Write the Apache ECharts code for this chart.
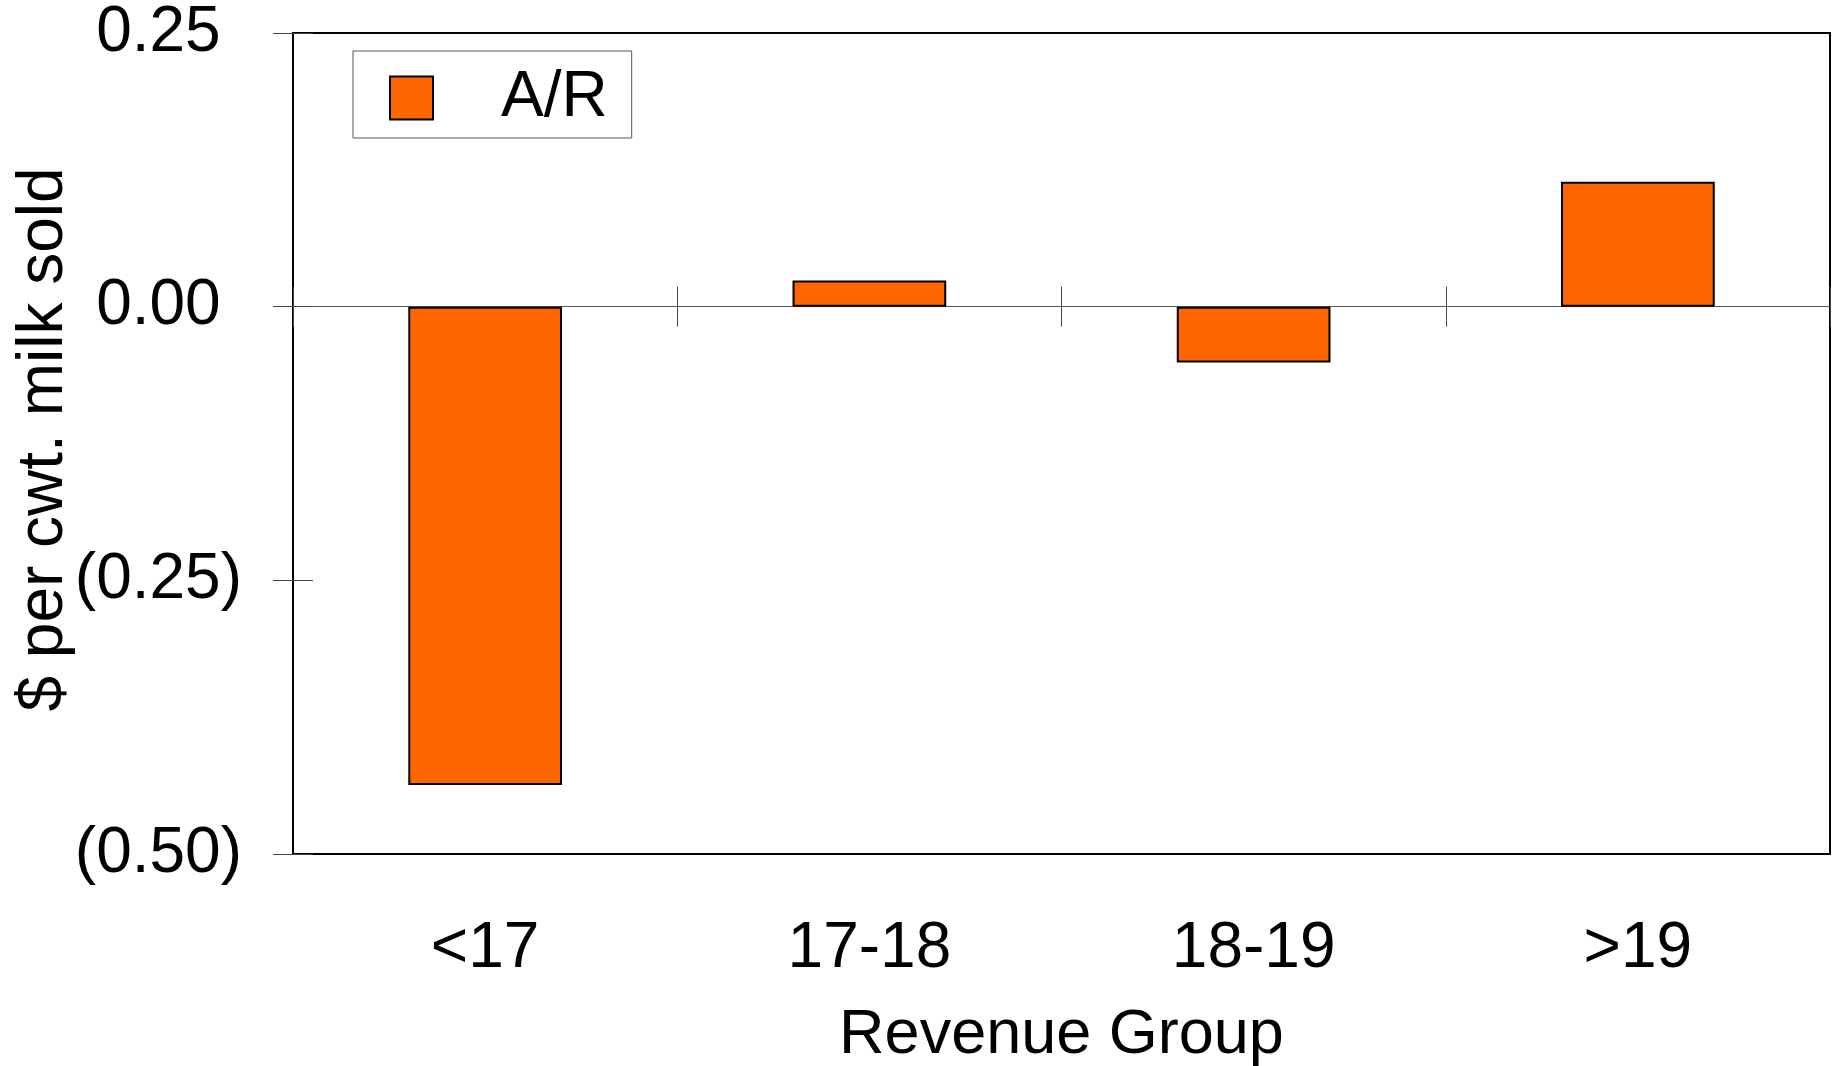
<!DOCTYPE html>
<html>
<head>
<meta charset="utf-8">
<script src="https://cdn.jsdelivr.net/npm/echarts@6/dist/echarts.min.js"></script>
<style>
html,body{margin:0;padding:0;background:#fff;}
#chart{width:1837px;height:1066px;}
</style>
</head>
<body>
<div id="chart"></div>
<script>
const categories = ['<17', '17-18', '18-19', '>19'];
const arValues = [-0.437, 0.024, -0.051, 0.114];
const seriesName = 'A/R';
const yMin = -0.5, yMax = 0.25, yStep = 0.25;
const xTitle = 'Revenue Group';
const yTitle = '$ per cwt. milk sold';

const FONT = "'Liberation Sans', Arial, Helvetica, sans-serif";

function fmtY(v) {
  const r = Math.round(v * 100) / 100;
  if (r < 0) return '{n|(' + (-r).toFixed(2) + ')}';
  return '{n|' + r.toFixed(2) + '}{h|)}';
}

const chart = echarts.init(document.getElementById('chart'), null, {renderer: 'canvas'});
const gridPos = {left: 293, right: 7, top: 33, bottom: 212, containLabel: false, outerBoundsMode: 'none'};

chart.setOption({
  animation: false,
  backgroundColor: '#ffffff',
  textStyle: {fontFamily: FONT},
  grid: [
    Object.assign({show: true, borderColor: '#000', borderWidth: 2, backgroundColor: 'transparent'}, gridPos),
    Object.assign({show: false}, gridPos)
  ],
  legend: {
    show: true,
    left: 353, top: 51,
    orient: 'vertical',
    data: [seriesName],
    backgroundColor: '#fff',
    borderColor: '#555',
    borderWidth: 1,
    padding: [15, 24, 8, 36],
    itemWidth: 43, itemHeight: 43,
    icon: 'rect',
    textStyle: {fontSize: 64, color: '#000', fontFamily: FONT, padding: [0, 0, 0, 63]}
  },
  xAxis: [
    {
      gridIndex: 0, type: 'category', data: categories, position: 'bottom',
      axisLine: {show: false, onZero: false},
      axisTick: {show: false},
      axisLabel: {fontSize: 64, color: '#000', margin: 63, fontFamily: FONT},
      splitLine: {show: false},
      name: xTitle, nameLocation: 'middle', nameGap: 150, nameMoveOverlap: false,
      nameTextStyle: {fontSize: 63, color: '#000', fontFamily: FONT}
    },
    {
      gridIndex: 0, type: 'category', data: categories, position: 'top',
      axisLine: {show: true, onZero: true, lineStyle: {color: '#555', width: 1}},
      axisTick: {show: true, inside: false, length: 20, interval: 0, lineStyle: {color: '#444', width: 1}},
      axisLabel: {show: false},
      splitLine: {show: false}
    },
    {
      gridIndex: 1, type: 'category', data: categories, position: 'bottom',
      axisLine: {show: true, onZero: true, lineStyle: {color: '#555', width: 1}},
      axisTick: {show: true, inside: false, length: 20, interval: 0, lineStyle: {color: '#444', width: 1}},
      axisLabel: {show: false},
      splitLine: {show: false}
    }
  ],
  yAxis: [
    {
      gridIndex: 0, type: 'value', min: yMin, max: yMax, interval: yStep,
      axisLine: {show: true, lineStyle: {color: '#000', width: 2}},
      axisTick: {show: true, inside: false, length: 20, lineStyle: {color: '#444', width: 1}},
      axisLabel: {
        margin: 51, color: '#000', fontSize: 64, fontFamily: FONT,
        formatter: fmtY,
        rich: {
          n: {fontSize: 64, color: '#000', fontFamily: FONT},
          h: {fontSize: 64, color: 'rgba(0,0,0,0)', fontFamily: FONT}
        }
      },
      splitLine: {show: false},
      name: yTitle, nameLocation: 'middle', nameGap: 217, nameRotate: 90, nameMoveOverlap: false,
      nameTextStyle: {fontSize: 64, color: '#000', fontFamily: FONT, padding: [0, 0, 0, 8]}
    },
    {
      gridIndex: 1, type: 'value', min: yMin, max: yMax, interval: yStep,
      axisLine: {show: false},
      axisTick: {show: true, inside: true, length: 20, lineStyle: {color: '#444', width: 1}},
      axisLabel: {show: false},
      splitLine: {show: false}
    }
  ],
  series: [
    {
      name: seriesName, type: 'bar', xAxisIndex: 0, yAxisIndex: 0,
      data: arValues, barWidth: '40%',
      itemStyle: {color: '#FF6600', borderColor: '#000', borderWidth: 2}
    }
  ]
});
</script>
</body>
</html>
